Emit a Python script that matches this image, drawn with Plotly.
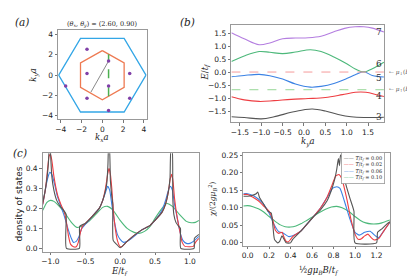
import plotly.graph_objects as go

# ---------------- data ----------------
# panel (a): Brillouin zones and momenta
bz_outer_kx = [4.19, 2.094, -2.094, -4.19, -2.094, 2.094, 4.19]
bz_outer_ky = [0.0, 3.628, 3.628, 0.0, -3.628, -3.628, 0.0]
bz_inner_kx = [0.0, 2.094, 2.094, 0.0, -2.094, -2.094, 0.0]
bz_inner_ky = [2.418, 1.209, -1.209, -2.418, -1.209, 1.209, 2.418]
pts_kx = [-1.47, 0.6, -1.47, 2.63, -3.52, 0.6, -1.47, 2.63, 0.6]
pts_ky = [2.55, 1.39, 0.16, 0.16, -1.07, -1.07, -2.28, -2.28, -3.48]
path_kx = [-1.1, 0.6]
path_ky = [-1.68, 1.39]
cut_kx = [0.6, 0.6]
cut_ky = [-2.07, 2.07]

# panel (b): bands along k_y
k7 = [-1.70, -1.40, -1.05, -0.80, -0.50, -0.20, 0.10, 0.40, 0.70, 0.95, 1.20, 1.40, 1.60, 1.87]
e7 = [1.51, 1.28, 1.05, 1.12, 1.28, 1.31, 1.32, 1.38, 1.55, 1.68, 1.74, 1.74, 1.69, 1.54]
k6 = [-1.70, -1.40, -1.05, -0.80, -0.50, -0.20, 0.15, 0.40, 0.70, 1.00, 1.20, 1.40, 1.60, 1.87]
e6 = [0.41, 0.62, 0.79, 0.76, 0.71, 0.77, 0.86, 0.79, 0.58, 0.32, 0.12, 0.00, 0.13, 0.38]
k5 = [-1.70, -1.40, -1.05, -0.80, -0.50, -0.20, 0.15, 0.40, 0.70, 1.00, 1.20, 1.40, 1.60, 1.87]
e5 = [-0.18, -0.13, -0.09, -0.14, -0.27, -0.46, -0.58, -0.55, -0.44, -0.25, -0.10, 0.01, -0.13, -0.19]
k4 = [-1.70, -1.40, -1.05, -0.70, -0.30, 0.10, 0.50, 0.90, 1.20, 1.45, 1.70, 1.87]
e4 = [-0.95, -1.07, -1.13, -1.10, -1.05, -1.02, -0.98, -0.87, -0.78, -0.78, -0.87, -0.94]
k3 = [-1.70, -1.40, -1.00, -0.70, -0.30, 0.00, 0.20, 0.50, 0.80, 1.10, 1.40, 1.87]
e3 = [-1.72, -1.75, -1.80, -1.72, -1.55, -1.45, -1.42, -1.50, -1.63, -1.72, -1.75, -1.74]
mu_down = 0.0
mu_up = -0.68
band_numbers = ["7", "6", "5", "4", "3"]
band_label_e = [1.54, 0.32, -0.21, -0.93, -1.74]

# panel (c): density of states
temps = ["0.00", "0.02", "0.06", "0.10"]
dos_e_T0 = [-1.11, -1.08, -1.05, -1.03, -1.015, -1.005, -0.995, -0.98, -0.95, -0.91, -0.86, -0.81, -0.775,
            -0.77, -0.585, -0.58, -0.50, -0.40, -0.30, -0.25, -0.21, -0.19, -0.175, -0.165, -0.155, -0.14,
            -0.12, -0.105, -0.10, -0.05, 0.0, 0.1, 0.2, 0.3, 0.43, 0.5, 0.6, 0.65, 0.69, 0.715, 0.73,
            0.745, 0.755, 0.77, 0.80, 0.84, 0.865, 0.87, 1.06, 1.065, 1.13]
dos_T0 = [0.23, 0.28, 0.35, 0.42, 0.5, 0.5, 0.45, 0.36, 0.29, 0.24, 0.21, 0.19, 0.17,
          0.0, 0.0, 0.11, 0.125, 0.16, 0.2, 0.24, 0.29, 0.33, 0.42, 0.5, 0.5, 0.34,
          0.26, 0.22, 0.04, 0.02, 0.003, 0.035, 0.065, 0.09, 0.115, 0.14, 0.18, 0.22, 0.28, 0.35, 0.5,
          0.5, 0.25, 0.17, 0.13, 0.11, 0.10, 0.0, 0.0, 0.05, 0.07]
dos_e_T2 = [-1.11, -1.07, -1.04, -1.02, -1.0, -0.98, -0.95, -0.9, -0.85, -0.8, -0.77, -0.74, -0.71, -0.67,
            -0.63, -0.6, -0.57, -0.54, -0.5, -0.4, -0.3, -0.25, -0.21, -0.18, -0.16, -0.14, -0.12, -0.10,
            -0.07, -0.04, 0.0, 0.03, 0.1, 0.2, 0.3, 0.43, 0.5, 0.6, 0.65, 0.69, 0.72, 0.74, 0.76, 0.78,
            0.82, 0.86, 0.89, 0.93, 1.0, 1.05, 1.08, 1.13]
dos_T2 = [0.22, 0.30, 0.40, 0.46, 0.47, 0.44, 0.36, 0.27, 0.22, 0.18, 0.13, 0.06, 0.02, 0.008,
          0.008, 0.03, 0.08, 0.11, 0.125, 0.16, 0.2, 0.24, 0.3, 0.37, 0.40, 0.37, 0.3, 0.2,
          0.1, 0.04, 0.008, 0.01, 0.035, 0.065, 0.09, 0.115, 0.14, 0.18, 0.22, 0.28, 0.35, 0.37, 0.33, 0.25,
          0.15, 0.08, 0.03, 0.01, 0.008, 0.01, 0.03, 0.05]
dos_e_T6 = [-1.11, -1.07, -1.04, -1.01, -0.98, -0.94, -0.9, -0.85, -0.8, -0.75, -0.7, -0.67, -0.63, -0.59,
            -0.55, -0.5, -0.4, -0.3, -0.25, -0.21, -0.18, -0.15, -0.12, -0.08, -0.04, 0.0, 0.05, 0.1, 0.2,
            0.3, 0.43, 0.5, 0.6, 0.66, 0.70, 0.72, 0.75, 0.78, 0.82, 0.86, 0.9, 0.95, 1.0, 1.05, 1.13]
dos_T6 = [0.22, 0.30, 0.35, 0.38, 0.37, 0.32, 0.26, 0.21, 0.16, 0.10, 0.05, 0.03, 0.035, 0.06,
          0.10, 0.12, 0.16, 0.2, 0.24, 0.28, 0.31, 0.29, 0.22, 0.13, 0.07, 0.045, 0.03, 0.035, 0.06,
          0.09, 0.115, 0.14, 0.19, 0.25, 0.30, 0.31, 0.29, 0.22, 0.15, 0.08, 0.04, 0.025, 0.025, 0.035, 0.06]
dos_e_T10 = [-1.11, -1.05, -1.0, -0.95, -0.9, -0.8, -0.7, -0.62, -0.55, -0.45, -0.35, -0.25, -0.18, -0.1,
             0.0, 0.1, 0.2, 0.27, 0.35, 0.43, 0.5, 0.6, 0.67, 0.75, 0.85, 0.95, 1.02, 1.08, 1.13]
dos_T10 = [0.19, 0.23, 0.24, 0.235, 0.22, 0.18, 0.13, 0.105, 0.11, 0.135, 0.17, 0.205, 0.21, 0.19,
           0.14, 0.10, 0.08, 0.075, 0.085, 0.11, 0.15, 0.2, 0.224, 0.21, 0.17, 0.135, 0.128, 0.13, 0.14]

# panel (d): susceptibility vs field
chi_b_T0 = [-0.04, 0.0, 0.04, 0.08, 0.095, 0.11, 0.15, 0.19, 0.22, 0.235, 0.25, 0.28, 0.30, 0.32, 0.34, 0.36,
            0.40, 0.42, 0.5, 0.6, 0.68, 0.74, 0.78, 0.81, 0.83, 0.845, 0.855, 0.865, 0.875, 0.89, 0.92, 0.96,
            0.99, 1.0, 1.2, 1.21, 1.25, 1.3, 1.325]
chi_T0 = [0.133, 0.133, 0.135, 0.14, 0.145, 0.13, 0.11, 0.09, 0.085, 0.05, 0.01, 0.0, 0.005, 0.02, 0.01, 0.0,
          0.0, 0.01, 0.035, 0.07, 0.095, 0.12, 0.15, 0.18, 0.21, 0.24, 0.22, 0.25, 0.245, 0.2, 0.16, 0.12,
          0.09, 0.0, 0.0, 0.03, 0.04, 0.055, 0.06]
chi_b_T2 = [-0.04, 0.0, 0.05, 0.1, 0.15, 0.2, 0.23, 0.26, 0.29, 0.32, 0.34, 0.36, 0.38, 0.40, 0.42, 0.5, 0.6,
            0.68, 0.74, 0.78, 0.82, 0.85, 0.88, 0.92, 0.96, 1.0, 1.03, 1.06, 1.09, 1.12, 1.15, 1.18, 1.22,
            1.27, 1.325]
chi_T2 = [0.138, 0.138, 0.13, 0.12, 0.105, 0.09, 0.07, 0.035, 0.027, 0.03, 0.015, 0.004, 0.003, 0.01, 0.018,
          0.035, 0.07, 0.1, 0.13, 0.16, 0.19, 0.195, 0.18, 0.13, 0.07, 0.025, 0.01, 0.012, 0.02, 0.025,
          0.015, 0.008, 0.012, 0.035, 0.06]
chi_b_T6 = [-0.04, 0.0, 0.05, 0.1, 0.15, 0.2, 0.25, 0.29, 0.33, 0.38, 0.42, 0.5, 0.6, 0.68, 0.74, 0.79, 0.83,
            0.86, 0.9, 0.95, 1.0, 1.04, 1.09, 1.14, 1.19, 1.22, 1.27, 1.325]
chi_T6 = [0.14, 0.14, 0.135, 0.125, 0.11, 0.085, 0.05, 0.032, 0.028, 0.018, 0.02, 0.035, 0.07, 0.1, 0.13,
          0.155, 0.16, 0.155, 0.12, 0.07, 0.03, 0.022, 0.03, 0.033, 0.02, 0.015, 0.035, 0.058]
chi_b_T10 = [-0.04, 0.0, 0.05, 0.1, 0.15, 0.2, 0.25, 0.3, 0.35, 0.4, 0.45, 0.5, 0.55, 0.6, 0.66, 0.72, 0.78,
             0.83, 0.88, 0.95, 1.0, 1.05, 1.1, 1.15, 1.2, 1.25, 1.325]
chi_T10 = [0.105, 0.106, 0.103, 0.097, 0.088, 0.075, 0.063, 0.052, 0.046, 0.045, 0.048, 0.055, 0.064, 0.073,
           0.085, 0.095, 0.102, 0.104, 0.1, 0.088, 0.075, 0.064, 0.057, 0.054, 0.054, 0.057, 0.065]

# ---------------- styling ----------------
W, H = 415, 276
C_GRAY, C_RED, C_BLUE, C_GREEN = "#555555", "#ee3d42", "#3b82e4", "#4cb87a"
C_PURPLE = "#b47ee0"
SERIF = "DejaVu Serif"
SANS = "DejaVu Sans"


def px(v):
    return v / W


def py(v):
    return 1 - v / H


fig = go.Figure()

# panel (a)
fig.add_trace(go.Scatter(x=bz_outer_kx, y=bz_outer_ky, mode="lines", line=dict(color="#33a6e6", width=1.3),
                         xaxis="x", yaxis="y", showlegend=False))
fig.add_trace(go.Scatter(x=bz_inner_kx, y=bz_inner_ky, mode="lines", line=dict(color="#ee7a52", width=1.3),
                         xaxis="x", yaxis="y", showlegend=False))
fig.add_trace(go.Scatter(x=path_kx, y=path_ky, mode="lines", line=dict(color="#8a8a8a", width=1),
                         xaxis="x", yaxis="y", showlegend=False))
fig.add_trace(go.Scatter(x=cut_kx, y=cut_ky, mode="lines", line=dict(color="#4cb050", width=1.5, dash="dash"),
                         xaxis="x", yaxis="y", showlegend=False))
fig.add_trace(go.Scatter(x=pts_kx, y=pts_ky, mode="markers", marker=dict(color="#8040a8", size=3.5),
                         xaxis="x", yaxis="y", showlegend=False))

# panel (b)
for kk, ee, col in [(k3, e3, C_GRAY), (k4, e4, C_RED), (k5, e5, C_BLUE), (k6, e6, C_GREEN), (k7, e7, C_PURPLE)]:
    fig.add_trace(go.Scatter(x=kk, y=ee, mode="lines", line=dict(color=col, width=1.1, shape="spline", smoothing=1.0),
                             xaxis="x2", yaxis="y2", showlegend=False))
kr = [-1.70, 1.87]
fig.add_trace(go.Scatter(x=kr, y=[mu_down, mu_down], mode="lines", line=dict(color="#f59a9a", width=1, dash="dash"),
                         xaxis="x2", yaxis="y2", showlegend=False))
fig.add_trace(go.Scatter(x=kr, y=[mu_up, mu_up], mode="lines", line=dict(color="#96d696", width=1, dash="dash"),
                         xaxis="x2", yaxis="y2", showlegend=False))

# panel (c)
for ee, dd, col in [(dos_e_T10, dos_T10, C_GREEN), (dos_e_T6, dos_T6, C_BLUE), (dos_e_T2, dos_T2, C_RED),
                    (dos_e_T0, dos_T0, C_GRAY)]:
    fig.add_trace(go.Scatter(x=ee, y=dd, mode="lines", line=dict(color=col, width=1.1, shape="spline", smoothing=0.5),
                             xaxis="x3", yaxis="y3", showlegend=False))

# panel (d)
for bb, cc, col in [(chi_b_T10, chi_T10, C_GREEN), (chi_b_T6, chi_T6, C_BLUE), (chi_b_T2, chi_T2, C_RED),
                    (chi_b_T0, chi_T0, C_GRAY)]:
    fig.add_trace(go.Scatter(x=bb, y=cc, mode="lines", line=dict(color=col, width=1.1, shape="spline", smoothing=0.5),
                             xaxis="x4", yaxis="y4", showlegend=False))

ax_common = dict(showline=True, mirror=True, linecolor="#999999", linewidth=1.2, ticks="outside", ticklen=2.5,
                 tickwidth=1, tickcolor="#777777", showgrid=False, zeroline=False,
                 tickfont=dict(family=SANS, size=7.5, color="#222222"))

fig.update_layout(
    width=W, height=H, margin=dict(l=0, r=0, t=0, b=0),
    paper_bgcolor="white", plot_bgcolor="white", showlegend=False,
    xaxis=dict(domain=[px(47.5), px(137)], range=[-4.24, 4.29], tickvals=[-4, -2, 0, 2, 4], anchor="y", **ax_common),
    yaxis=dict(domain=[py(110), py(19)], range=[-4.32, 4.48], tickvals=[-4, -2, 0, 2, 4], anchor="x", **ax_common),
    xaxis2=dict(domain=[px(222), px(376)], range=[-1.70, 1.88], tickvals=[-1.5, -1.0, -0.5, 0.0, 0.5, 1.0, 1.5],
                tickformat=".1f", anchor="y2", **ax_common),
    yaxis2=dict(domain=[py(113), py(14)], range=[-1.92, 1.82], tickvals=[-1.5, -1.0, -0.5, 0.0, 0.5, 1.0, 1.5],
                tickformat=".1f", anchor="x2", **ax_common),
    xaxis3=dict(domain=[px(32), px(189.3)], range=[-1.11, 1.13], tickvals=[-1.0, -0.5, 0.0, 0.5, 1.0],
                tickformat=".1f", anchor="y3", **ax_common),
    yaxis3=dict(domain=[py(245), py(145)], range=[-0.016, 0.475], tickvals=[0.0, 0.1, 0.2, 0.3, 0.4],
                tickformat=".1f", anchor="x3", **ax_common),
    xaxis4=dict(domain=[px(234), px(381.7)], range=[-0.04, 1.325], tickvals=[0.0, 0.2, 0.4, 0.6, 0.8, 1.0, 1.2],
                tickformat=".1f", anchor="y4", **ax_common),
    yaxis4=dict(domain=[py(239), py(145)], range=[-0.008, 0.255], tickvals=[0.0, 0.05, 0.10, 0.15, 0.20, 0.25],
                tickformat=".2f", anchor="x4", **ax_common),
)

ann = []


def txt(x, y, t, size=9, family=SERIF, color="#222222", angle=0, xanchor="center", yanchor="middle"):
    ann.append(dict(x=px(x), y=py(y), xref="paper", yref="paper", text=t, showarrow=False,
                    font=dict(family=family, size=size, color=color), textangle=angle,
                    xanchor=xanchor, yanchor=yanchor))


# panel labels
txt(11, 11, "<i>(a)</i>", size=10.5)
txt(178, 11, "<i>(b)</i>", size=10.5)
txt(9, 145, "<i>(c)</i>", size=10.5)

# panel (a) labels
txt(92, 14, "(<i>θ<sub>x</sub></i>, <i>θ<sub>y</sub></i>) = (2.60, 0.90)", size=6.5)
txt(92, 129, "<i>k<sub>x</sub>a</i>", size=8.5)
txt(23, 65, "<i>k<sub>y</sub>a</i>", size=8.5, angle=-90)

# panel (b) labels
txt(196, 62, "<i>E</i>/<i>t<sub>f</sub></i>", size=8.5, angle=-90)
txt(299, 133, "<i>k<sub>y</sub>a</i>", size=8.5)
for lab, ev in zip(band_numbers, band_label_e):
    ann.append(dict(x=1.755, y=ev, xref="x2", yref="y2", text=lab, showarrow=False,
                    font=dict(family=SERIF, size=9, color="#333333"), xanchor="center", yanchor="middle"))
ann.append(dict(x=px(379), y=mu_down, xref="paper", yref="y2", xanchor="left", yanchor="middle", showarrow=False,
                text="← <i>μ</i><sub>↓</sub>(<i>B</i><sub>0</sub>)", font=dict(family=SERIF, size=5.8, color="#555555")))
ann.append(dict(x=px(379), y=mu_up, xref="paper", yref="y2", xanchor="left", yanchor="middle", showarrow=False,
                text="← <i>μ</i><sub>↑</sub>(<i>B</i><sub>0</sub>)", font=dict(family=SERIF, size=5.8, color="#555555")))

# panel (c) labels
txt(9, 196, "density of states", size=9, family=SANS, angle=-90)
txt(110, 266, "<i>E</i>/<i>t<sub>f</sub></i>", size=8.5)

# panel (d) labels
txt(203, 192, "<i>χ</i>/(2<i>gμ</i><sub><i>B</i></sub><sup>2</sup>)", size=7.5, angle=-90)
txt(310, 265, "½<i>gμ<sub>B</sub>B</i>/<i>t<sub>f</sub></i>", size=8.5)

# legend of panel (d)
leg_cols = [C_GRAY, C_RED, C_BLUE, C_GREEN]
leg_lines = ["<span style='color:%s'>——</span> <i>T</i>/<i>t<sub>f</sub></i> = %s" % (c, t)
             for c, t in zip(leg_cols, temps)]
ann.append(dict(x=px(377), y=py(144), xref="paper", yref="paper", xanchor="right", yanchor="top",
                text="<br>".join(leg_lines), showarrow=False, align="left",
                font=dict(family=SERIF, size=5, color="#222222"),
                bordercolor="#999999", borderwidth=0.8, borderpad=2, bgcolor="white"))

fig.update_layout(annotations=ann)
fig.write_html("out.html")
